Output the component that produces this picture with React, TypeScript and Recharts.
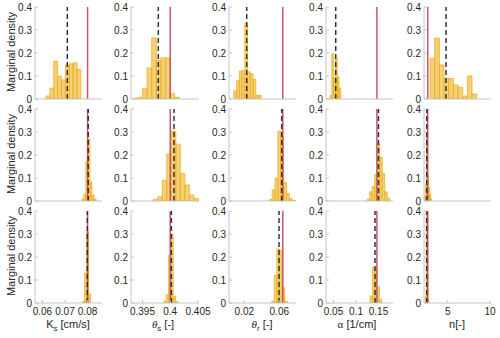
import React from 'react';
import { ComposedChart, XAxis, YAxis, ReferenceArea, ReferenceLine } from 'recharts';

// ---------- data ----------
const paramLabels = ['Ks', 'thetaS', 'thetaR', 'alpha', 'n'];
const xDomains: [number, number][] = [
  [0.0567, 0.0864],
  [0.39293, 0.40518],
  [0.0025, 0.0791],
  [0.0333, 0.1822],
  [2.2, 10.11],
];
const xTicks = [
  [0.06, 0.07, 0.08],
  [0.395, 0.4, 0.405],
  [0.02, 0.06],
  [0.05, 0.1, 0.15],
  [5, 10],
];
const yTicks = [0, 0.1, 0.2, 0.3, 0.4];

const trueValues = [0.08, 0.4, 0.064, 0.1464, 2.64];
const estimateRow1 = [0.07102, 0.39785, 0.02274, 0.05489, 4.8];
const estimateRow2 = [0.0803, 0.40068, 0.06274, 0.15, 2.52];
const estimateRow3 = [0.0799, 0.4002, 0.0597, 0.1422, 2.52];

const binStartRow1 = [0.06156, 0.39334, 0.008, 0.04222, 2.91];
const binWidthRow1 = [0.00172, 0.000829, 0.003143, 0.004, 0.551];
const densityRow1 = [
  [0.013, 0.047, 0.164, 0.099, 0.083, 0.148, 0.153, 0.157, 0.128],
  [0.003, 0.007, 0.045, 0.135, 0.266, 0.167, 0.179, 0.179, 0.023, 0.007],
  [0.036, 0.079, 0.121, 0.124, 0.33, 0.118, 0.11, 0.086, 0.016, 0.016],
  [0.015, 0.196, 0.093, 0.177, 0.095, 0.047],
  [0.177, 0.265, 0.148, 0.09, 0.089, 0.061, 0.051, 0.013, 0.1, 0.022],
];

const binStartRow2 = [0.07742, 0.39695, 0.04857, 0.1249, 2.26];
const binWidthRow2 = [0.00091, 0.000811, 0.00327, 0.00556, 0.12];
const densityRow2 = [
  [0.007, 0.03, 0.17, 0.27, 0.083, 0.026, 0.009],
  [0.007, 0.019, 0.09, 0.204, 0.304, 0.247, 0.119, 0.069, 0.026, 0.011],
  [0.006, 0.048, 0.1, 0.304, 0.28, 0.08, 0.033, 0.01, 0.003],
  [0.008, 0.04, 0.063, 0.116, 0.248, 0.19, 0.12, 0.04, 0.012],
  [0.02, 0.07, 0.3, 0.11, 0.06, 0.03, 0.01],
];

const binStartRow3 = [0.07778, 0.39887, 0.05131, 0.13111, 2.37];
const binWidthRow3 = [0.00089, 0.000414, 0.00297, 0.00522, 0.1];
const densityRow3 = [
  [0.007, 0.13, 0.31, 0.04],
  [0.007, 0.037, 0.206, 0.3, 0.03, 0.007],
  [0.007, 0.12, 0.235, 0.228, 0.066, 0.007],
  [0.03, 0.155, 0.15, 0.07, 0.015],
  [0.03, 0.45, 0.12, 0.02],
];

const binStarts = [binStartRow1, binStartRow2, binStartRow3];
const binWidths = [binWidthRow1, binWidthRow2, binWidthRow3];
const densities = [densityRow1, densityRow2, densityRow3];
const estimates = [estimateRow1, estimateRow2, estimateRow3];

// ---------- layout / style ----------
const COL_LEFT = [35, 131, 229, 326, 424];
const COL_WIDTH = [67, 68, 67, 67, 67];
const ROW_TOP = [7, 109, 211];
const PLOT_H = 92;
const Y_AXIS_W = 32;
const X_AXIS_H = 22;
const PAD = 5;
const PAD_RIGHT = 14;

const FONT = "'Liberation Sans', Arial, Helvetica, sans-serif";
const TEXT = '#262626';
const AXIS = '#c4c4c4';
const RED = '#c9566c';
const GOLD = '#EDB120';
const DASH = '#333333';

function Panel({ row, col }: { row: number; col: number }) {
  const start = binStarts[row][col];
  const width = binWidths[row][col];
  const bins = densities[row][col].map((h, i) => ({
    x1: start + i * width,
    x2: start + (i + 1) * width,
    h,
  }));
  const w = Y_AXIS_W + COL_WIDTH[col] + PAD_RIGHT;
  const hgt = PAD + PLOT_H + X_AXIS_H;
  const tickStyle = { fontSize: 10, fill: TEXT, fontFamily: FONT };
  return (
    <div style={{ position: 'absolute', left: COL_LEFT[col] - Y_AXIS_W, top: ROW_TOP[row] - PAD }}>
      <ComposedChart
        width={w}
        height={hgt}
        margin={{ top: PAD, right: PAD_RIGHT, bottom: 0, left: 0 }}
        data={bins}
      >
        <XAxis
          xAxisId="b"
          type="number"
          dataKey="x1"
          domain={xDomains[col]}
          allowDataOverflow
          ticks={xTicks[col]}
          interval={0}
          orientation="bottom"
          height={X_AXIS_H}
          stroke={AXIS}
          tickSize={-3}
          tickMargin={8}
          tick={row === 2 ? tickStyle : false}
        />
        <XAxis
          xAxisId="t"
          type="number"
          dataKey="x1"
          domain={xDomains[col]}
          allowDataOverflow
          ticks={xTicks[col]}
          interval={0}
          orientation="top"
          height={0}
          stroke={AXIS}
          tickSize={-3}
          tick={false}
        />
        <YAxis
          yAxisId="l"
          type="number"
          dataKey="h"
          domain={[0, 0.4]}
          allowDataOverflow
          ticks={yTicks}
          interval={0}
          width={Y_AXIS_W}
          stroke={AXIS}
          tickSize={-3}
          tickMargin={6}
          tick={tickStyle}
        />
        <YAxis
          yAxisId="r"
          type="number"
          dataKey="h"
          domain={[0, 0.4]}
          allowDataOverflow
          ticks={yTicks}
          interval={0}
          orientation="right"
          width={0}
          stroke={AXIS}
          tickSize={-3}
          tick={false}
        />
        <ReferenceLine
          xAxisId="b"
          yAxisId="l"
          x={trueValues[col]}
          stroke={RED}
          strokeWidth={1.5}
          ifOverflow="hidden"
        />
        {bins.map((b, i) => (
          <ReferenceArea
            key={i}
            xAxisId="b"
            yAxisId="l"
            x1={b.x1}
            x2={b.x2}
            y1={0}
            y2={b.h}
            fill={GOLD}
            fillOpacity={0.6}
            stroke={GOLD}
            strokeWidth={0.8}
            ifOverflow="hidden"
          />
        ))}
        <ReferenceLine
          xAxisId="b"
          yAxisId="l"
          x={estimates[row][col]}
          stroke={DASH}
          strokeWidth={1.5}
          strokeDasharray="5 3"
          ifOverflow="hidden"
        />
      </ComposedChart>
    </div>
  );
}

const rowCenters = [52, 154, 256];
const xTitleCenters = [68, 163, 262, 357, 457];

export default function App() {
  return (
    <div
      style={{
        position: 'absolute',
        left: 0,
        top: 0,
        width: 500,
        height: 338,
        background: '#ffffff',
        fontFamily: FONT,
        overflow: 'hidden',
      }}
    >
      {[0, 1, 2].map((r) =>
        paramLabels.map((_, c) => <Panel key={`${r}-${c}`} row={r} col={c} />)
      )}
      <svg
        width={500}
        height={338}
        style={{ position: 'absolute', left: 0, top: 0, pointerEvents: 'none' }}
      >
        {rowCenters.map((cy, i) => (
          <text
            key={i}
            x={14.5}
            y={cy}
            transform={`rotate(-90, 14.5, ${cy})`}
            textAnchor="middle"
            fontSize={11}
            fill={TEXT}
            fontFamily={FONT}
          >
            Marginal density
          </text>
        ))}
        <g fontSize={11} fill={TEXT} fontFamily={FONT}>
          <text x={xTitleCenters[0]} y={328} textAnchor="middle">
            <tspan>K</tspan>
            <tspan fontSize={8} dy={3}>s</tspan>
            <tspan dy={-3}> [cm/s]</tspan>
          </text>
          <text x={xTitleCenters[1]} y={328} textAnchor="middle">
            <tspan fontStyle="italic" fontFamily="'Liberation Serif', serif">θ</tspan>
            <tspan fontSize={8} dy={3}>s</tspan>
            <tspan dy={-3}> [-]</tspan>
          </text>
          <text x={xTitleCenters[2]} y={328} textAnchor="middle">
            <tspan fontStyle="italic" fontFamily="'Liberation Serif', serif">θ</tspan>
            <tspan fontSize={8} dy={3}>r</tspan>
            <tspan dy={-3}> [-]</tspan>
          </text>
          <text x={xTitleCenters[3]} y={328} textAnchor="middle">
            <tspan fontFamily="'Liberation Serif', serif">α</tspan>
            <tspan> [1/cm]</tspan>
          </text>
          <text x={xTitleCenters[4]} y={328} textAnchor="middle">
            n[-]
          </text>
        </g>
      </svg>
    </div>
  );
}
